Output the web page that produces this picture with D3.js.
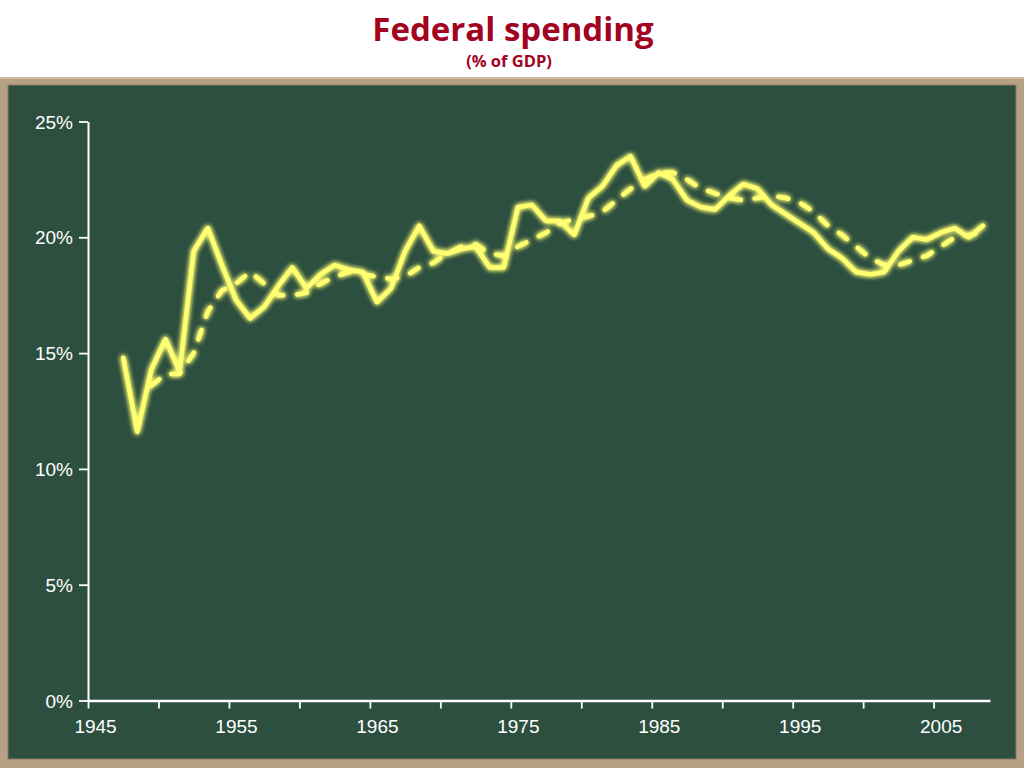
<!DOCTYPE html>
<html>
<head>
<meta charset="utf-8">
<script src="https://cdn.jsdelivr.net/npm/d3@7"></script>
<style>
  html, body { margin: 0; padding: 0; background: #fff; }
</style>
</head>
<body>
<div id="chart"></div>
<script>
// Data: federal outlays as % of GDP, and the dashed 5-year average line
const years = [1947, 1948, 1949, 1950, 1951, 1952, 1953, 1954, 1955, 1956,
    1957, 1958, 1959, 1960, 1961, 1962, 1963, 1964, 1965, 1966,
    1967, 1968, 1969, 1970, 1971, 1972, 1973, 1974, 1975, 1976,
    1977, 1978, 1979, 1980, 1981, 1982, 1983, 1984, 1985, 1986,
    1987, 1988, 1989, 1990, 1991, 1992, 1993, 1994, 1995, 1996,
    1997, 1998, 1999, 2000, 2001, 2002, 2003, 2004, 2005, 2006,
    2007, 2008]
const spending = [14.8, 11.6, 14.3, 15.6, 14.2, 19.4, 20.4, 18.8, 17.3, 16.5,
    17.0, 17.9, 18.7, 17.8, 18.4, 18.8, 18.6, 18.5, 17.2, 17.8,
    19.4, 20.5, 19.4, 19.3, 19.5, 19.6, 18.7, 18.7, 21.3, 21.4,
    20.7, 20.7, 20.1, 21.7, 22.2, 23.1, 23.5, 22.2, 22.8, 22.5,
    21.6, 21.3, 21.2, 21.8, 22.3, 22.1, 21.4, 21.0, 20.6, 20.2,
    19.5, 19.1, 18.5, 18.4, 18.5, 19.4, 20.0, 19.9, 20.2, 20.4,
    20.0, 20.5]
// dashed line starts in 1949
const avgYears = [1949, 1950, 1951, 1952, 1953, 1954, 1955, 1956,
    1957, 1958, 1959, 1960, 1961, 1962, 1963, 1964, 1965, 1966,
    1967, 1968, 1969, 1970, 1971, 1972, 1973, 1974, 1975, 1976,
    1977, 1978, 1979, 1980, 1981, 1982, 1983, 1984, 1985, 1986,
    1987, 1988, 1989, 1990, 1991, 1992, 1993, 1994, 1995, 1996,
    1997, 1998, 1999, 2000, 2001, 2002, 2003, 2004, 2005, 2006,
    2007, 2008]
const avgSpending = [13.6, 14.1, 14.1, 15.0, 16.8, 17.7, 18.0, 18.5,
    18.0, 17.5, 17.5, 17.6, 18.0, 18.3, 18.5, 18.4, 18.3, 18.2,
    18.3, 18.7, 18.9, 19.3, 19.6, 19.7, 19.3, 19.2, 19.6, 19.9,
    20.2, 20.6, 20.8, 20.9, 21.1, 21.6, 22.1, 22.5, 22.8, 22.8,
    22.5, 22.1, 21.9, 21.7, 21.6, 21.7, 21.8, 21.7, 21.5, 21.1,
    20.5, 20.1, 19.6, 19.1, 18.8, 18.8, 19.0, 19.2, 19.6, 20.0,
    20.1, 20.2]
const xTicks = [1945, 1950, 1955, 1960, 1965, 1970, 1975, 1980, 1985, 1990, 1995, 2000, 2005]
const yTicks = [0, 5, 10, 15, 20, 25]

// Constants
const width = 1024
const height = 768
const margin = { top: 121.5, right: 34, bottom: 67.5, left: 88 }

const chalk = '#ffff72'
const board = '#2d4f40'
const frame = '#b6a185'

const svg = d3.select('#chart')
    .append('svg')
    .attr('width', width)
    .attr('height', height)

// glow for the chalk lines
const defs = svg.append('defs')
const glow = defs.append('filter')
    .attr('id', 'glow')
    .attr('x', '-10%').attr('y', '-10%')
    .attr('width', '120%').attr('height', '120%')
glow.append('feGaussianBlur')
    .attr('in', 'SourceGraphic')
    .attr('stdDeviation', 2.8)
    .attr('result', 'blur')
const merge = glow.append('feMerge')
merge.append('feMergeNode').attr('in', 'blur')
merge.append('feMergeNode').attr('in', 'blur')
merge.append('feMergeNode').attr('in', 'SourceGraphic')

// Title
svg.append('text')
    .attr('x', 513)
    .attr('y', 41)
    .attr('text-anchor', 'middle')
    .style('font-family', '"Open Sans", sans-serif')
    .style('font-weight', 700)
    .style('font-size', '33px')
    .style('fill', '#a2041f')
    .text('Federal spending')
svg.append('text')
    .attr('x', 509)
    .attr('y', 67)
    .attr('text-anchor', 'middle')
    .style('font-family', '"Open Sans", sans-serif')
    .style('font-weight', 700)
    .style('font-size', '16.5px')
    .style('fill', '#a2041f')
    .text('(% of GDP)')

// Chalkboard
svg.append('rect')
    .attr('x', 0).attr('y', 77)
    .attr('width', width).attr('height', height - 77)
    .attr('fill', frame)
svg.append('rect')
    .attr('x', 0).attr('y', 77)
    .attr('width', width).attr('height', 2)
    .attr('fill', '#cdbba0')
svg.append('rect')
    .attr('x', 8).attr('y', 85)
    .attr('width', 1008).attr('height', 674)
    .attr('fill', board)
    .attr('stroke', '#8f7d64')
    .attr('stroke-width', 1)

// Scales
const x = d3.scaleLinear()
    .domain([1945, 2009])
    .range([margin.left, width - margin.right])

const y = d3.scaleLinear()
    .domain([0, 25])
    .range([height - margin.bottom, margin.top])

// Axes
const xAxis = d3.axisBottom(x)
    .tickValues(xTicks)
    .tickSizeInner(8)
    .tickSizeOuter(0)
    .tickFormat(d => d % 10 === 5 ? d : '')

const yAxis = d3.axisLeft(y)
    .tickValues(yTicks)
    .tickSizeInner(9)
    .tickSizeOuter(0)
    .tickFormat(d => d + '%')

const xAxisGroup = svg.append('g')
    .attr('transform', `translate(0, ${height - margin.bottom})`)
    .call(xAxis)
xAxisGroup.select('.domain')
    .attr('stroke', '#fff')
    .attr('stroke-width', 2.6)
xAxisGroup.selectAll('.tick line')
    .attr('stroke', '#fff')
    .attr('stroke-width', 1.8)
// year labels sit in the middle of their year
xAxisGroup.selectAll('text')
    .attr('x', x(1945.5) - x(1945))
    .attr('y', 32)
    .attr('dy', 0)
    .style('font-family', '"Liberation Sans", Arial, sans-serif')
    .style('font-size', '19px')
    .style('fill', '#fff')

const yAxisGroup = svg.append('g')
    .attr('transform', `translate(${margin.left}, 0)`)
    .call(yAxis)
yAxisGroup.select('.domain')
    .attr('stroke', '#fff')
    .attr('stroke-width', 2)
yAxisGroup.selectAll('.tick line')
    .attr('stroke', '#fff')
    .attr('stroke-width', 1.8)
yAxisGroup.selectAll('text')
    .attr('x', -15)
    .attr('dy', '0.35em')
    .style('font-family', '"Liberation Sans", Arial, sans-serif')
    .style('font-size', '19px')
    .style('fill', '#fff')

// Lines
const line = d3.line()
    .x(d => x(d.year + 0.5))
    .y(d => y(d.value))

const avgData = avgYears.map((yr, i) => ({ year: yr, value: avgSpending[i] }))
const spendData = years.map((yr, i) => ({ year: yr, value: spending[i] }))

const lineGroup = svg.append('g')
    .attr('filter', 'url(#glow)')

lineGroup.append('path')
    .datum(avgData)
    .attr('d', line)
    .attr('fill', 'none')
    .attr('stroke', chalk)
    .attr('stroke-width', 4.5)
    .attr('stroke-linecap', 'round')
    .attr('stroke-linejoin', 'round')
    .attr('stroke-dasharray', '10,14')

lineGroup.append('path')
    .datum(spendData)
    .attr('d', line)
    .attr('fill', 'none')
    .attr('stroke', chalk)
    .attr('stroke-width', 4.5)
    .attr('stroke-linecap', 'round')
    .attr('stroke-linejoin', 'round')
</script>
</body>
</html>
